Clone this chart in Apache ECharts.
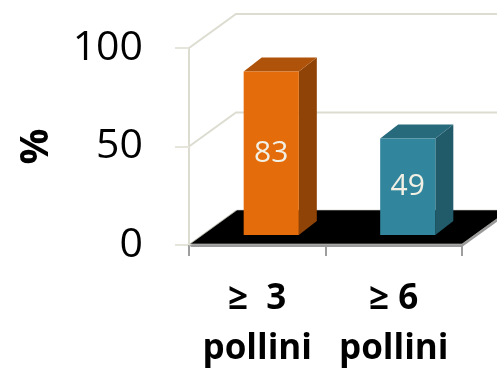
<!DOCTYPE html>
<html>
<head>
<meta charset="utf-8">
<script src="https://cdn.jsdelivr.net/npm/echarts@6/dist/echarts.min.js"></script>
<style>
  html, body { margin: 0; padding: 0; background: #fff; }
  #chart { width: 497px; height: 372px; }
</style>
</head>
<body>
<div id="chart"></div>
<script>
// Categories and values
const categories = ['≥  3\npollini', '≥ 6\npollini'];
const values = [83, 49];
const yTicks = [0, 50, 100];

// 3D look: depth of the chart box and of the bars (pixels)
const DEPTH = [47, -34];
const BAR_FRONT = [14, -10];
const BAR_DEPTH = [18, -14];
const FRONT = ['#E46C0A', '#31859C'];
const TOP = ['#B0530A', '#276A7C'];
const SIDE = ['#8F4306', '#215A69'];
const GRID_COLOR = '#DDDCD1';

const chart = echarts.init(document.getElementById('chart'), null, { renderer: 'canvas' });

function gridWalls(params, api) {
  const cs = params.coordSys;
  const y = api.coord([0, api.value(0)])[1];
  const x0 = cs.x;
  const x1 = cs.x + cs.width + DEPTH[0];
  return {
    type: 'polyline',
    shape: { points: [[x0, y], [x0 + DEPTH[0], y + DEPTH[1]], [x1, y + DEPTH[1]]] },
    style: { stroke: GRID_COLOR, lineWidth: 2, fill: null }
  };
}

function floor(params, api) {
  const cs = params.coordSys;
  const yf = api.coord([0, 0])[1] - 1;
  const x0 = cs.x + 1, x1 = cs.x + cs.width;
  const pts = [[x0, yf], [x1, yf], [x1 + DEPTH[0], yf + DEPTH[1]], [x0 + DEPTH[0], yf + DEPTH[1]]];
  const shadow = pts.map(q => [q[0], q[1] + 3]);
  return {
    type: 'group',
    children: [
      { type: 'polygon', shape: { points: shadow }, style: { fill: '#9A9A9A' } },
      { type: 'polygon', shape: { points: pts }, style: { fill: '#000', stroke: '#C8C8C0', lineWidth: 0.6 } }
    ]
  };
}

function bar3d(params, api) {
  const i = params.dataIndex;
  const base = api.coord([api.value(0), 0]);
  const top = api.coord([api.value(0), api.value(1)]);
  const w = api.size([1, 0])[0] * 0.404;
  const fx = base[0] + BAR_FRONT[0] - w / 2;
  const by = base[1] + BAR_FRONT[1];
  const ty = top[1] + BAR_FRONT[1];
  const dx = BAR_DEPTH[0], dy = BAR_DEPTH[1];
  return {
    type: 'group',
    children: [
      { type: 'polygon', shape: { points: [[fx + w, ty], [fx + w + dx, ty + dy], [fx + w + dx, by + dy], [fx + w, by]] }, style: { fill: SIDE[i] } },
      { type: 'polygon', shape: { points: [[fx, ty], [fx + w, ty], [fx + w + dx, ty + dy], [fx + dx, ty + dy]] }, style: { fill: TOP[i] } },
      { type: 'rect', shape: { x: fx, y: ty, width: w, height: by - ty }, style: { fill: FRONT[i] } },
      { type: 'text', style: {
          text: String(api.value(1)), x: fx + w / 2, y: (ty + by) / 2,
          align: 'center', verticalAlign: 'middle',
          fill: '#F2F0E4', font: '30px "Open Sans"'
      } }
    ]
  };
}

chart.setOption({
  animation: false,
  grid: { left: 189, right: 35, top: 48, bottom: 127, containLabel: false, outerBoundsMode: 'none' },
  xAxis: {
    type: 'category',
    data: categories,
    boundaryGap: true,
    axisLine: { show: true, lineStyle: { color: '#9E9E9E', width: 2 } },
    axisTick: { show: true, length: 11, lineStyle: { color: '#9E9E9E', width: 2 } },
    axisLabel: {
      interval: 0, hideOverlap: false,
      margin: 29, color: '#000', fontFamily: 'Open Sans', fontWeight: 'bold',
      fontSize: 35, lineHeight: 50
    },
    splitLine: { show: false }
  },
  yAxis: {
    type: 'value',
    min: 0, max: 100, interval: 50,
    name: '%',
    nameLocation: 'middle',
    nameRotate: 90,
    nameGap: 132,
    nameTextStyle: { color: '#000', fontFamily: 'Open Sans', fontWeight: 'bold', fontSize: 40 },
    axisLine: { show: true, lineStyle: { color: GRID_COLOR, width: 2 } },
    axisTick: { show: true, length: 14, lineStyle: { color: '#E6E5DB', width: 2 } },
    axisLabel: { margin: 46, color: '#000', fontFamily: 'Open Sans', fontSize: 41 },
    splitLine: { show: false }
  },
  series: [
    { type: 'custom', z: 1, renderItem: gridWalls, data: yTicks.map(v => [v]), silent: true },
    { type: 'custom', z: 2, renderItem: floor, data: [[0]], silent: true },
    { type: 'custom', z: 3, renderItem: bar3d, data: values.map((v, i) => [i, v]), encode: { x: 0, y: 1 } }
  ]
});
</script>
</body>
</html>
